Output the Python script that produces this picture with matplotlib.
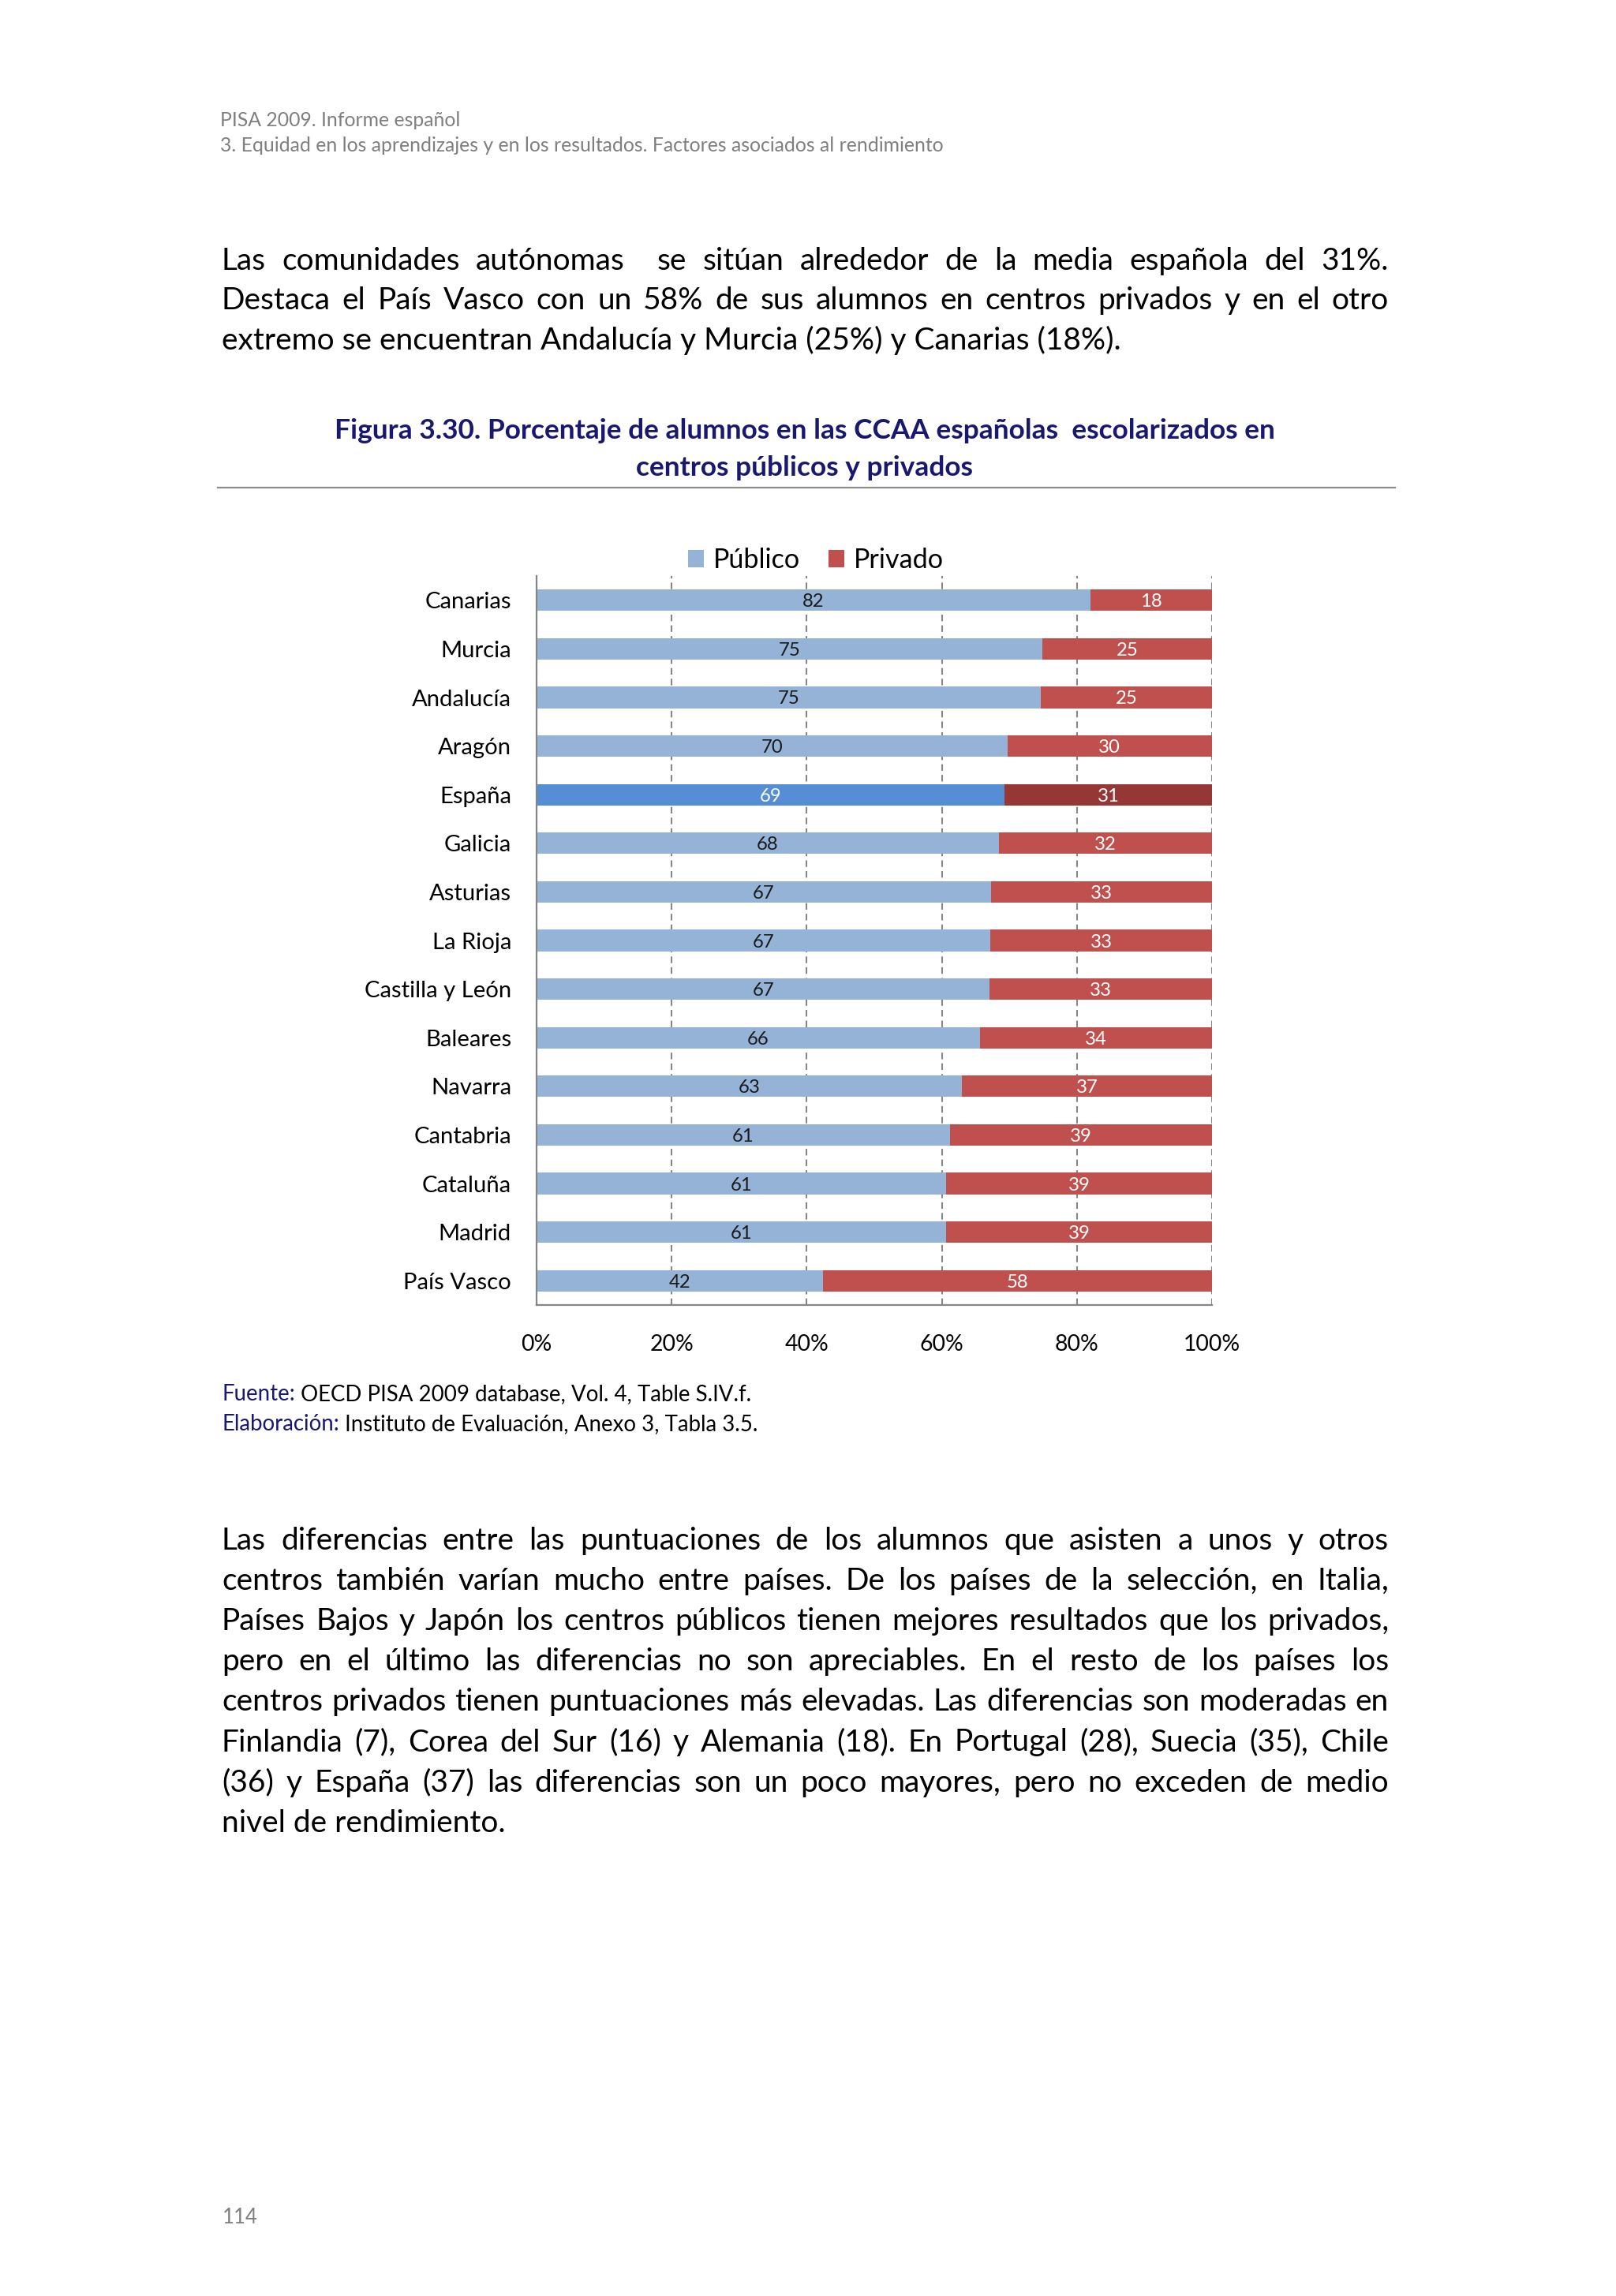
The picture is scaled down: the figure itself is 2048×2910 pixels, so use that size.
import numpy as np
import matplotlib
matplotlib.use("Agg")
from matplotlib import pyplot as plt

plt.rcParams['font.family'] = ['Lato', 'DejaVu Sans']

W, H = 2048, 2910

# datos de la figura 3.30
comunidades = ["Canarias", "Murcia", "Andalucía", "Aragón", "España", "Galicia",
               "Asturias", "La Rioja", "Castilla y León", "Baleares", "Navarra",
               "Cantabria", "Cataluña", "Madrid", "País Vasco"]
publico = [82.0, 74.9, 74.6, 69.7, 69.3, 68.4, 67.3, 67.2, 67.1, 65.6, 63.0, 61.2, 60.6, 60.6, 42.4]
privado = [18.0, 25.1, 25.4, 30.3, 30.7, 31.6, 32.7, 32.8, 32.9, 34.4, 37.0, 38.8, 39.4, 39.4, 57.6]
etiquetas_publico = [82, 75, 75, 70, 69, 68, 67, 67, 67, 66, 63, 61, 61, 61, 42]
etiquetas_privado = [18, 25, 25, 30, 31, 32, 33, 33, 33, 34, 37, 39, 39, 39, 58]
ticks = [0, 20, 40, 60, 80, 100]
tick_labels = ["0%", "20%", "40%", "60%", "80%", "100%"]

cabecera = ["PISA 2009. Informe español",
            "3. Equidad en los aprendizajes y en los resultados. Factores asociados al rendimiento"]
parrafo1 = ["Las comunidades autónomas  se sitúan alrededor de la media española del 31%.",
            "Destaca el País Vasco con un 58% de sus alumnos en centros privados y en el otro",
            "extremo se encuentran Andalucía y Murcia (25%) y Canarias (18%)."]
titulo = ["Figura 3.30. Porcentaje de alumnos en las CCAA españolas  escolarizados en",
          "centros públicos y privados"]
parrafo2 = ["Las diferencias entre las puntuaciones de los alumnos que asisten a unos y otros",
            "centros también varían mucho entre países. De los países de la selección, en Italia,",
            "Países Bajos y Japón los centros públicos tienen mejores resultados que los privados,",
            "pero en el último las diferencias no son apreciables. En el resto de los países los",
            "centros privados tienen puntuaciones más elevadas. Las diferencias son moderadas en",
            "Finlandia (7), Corea del Sur (16) y Alemania (18). En Portugal (28), Suecia (35), Chile",
            "(36) y España (37) las diferencias son un poco mayores, pero no exceden de medio",
            "nivel de rendimiento."]

BLUE, RED = '#95B3D7', '#C0504D'
BLUE_ES, RED_ES = '#558ED5', '#953735'
NAVY = '#18186E'
GRAY = '#7F7F7F'

fig = plt.figure(figsize=(W / 100, H / 100), dpi=100)
renderer = fig.canvas.get_renderer()


def fx(px):
    return px / W


def fy(py):
    return 1 - py / H


def text_width(s, size, **kw):
    if s == '':
        return 0
    t = fig.text(0, 0, s, fontsize=size, **kw)
    w = t.get_window_extent(renderer).width
    t.remove()
    return w


def fit_size(s, width, **kw):
    return 10 * width / text_width(s, 10, **kw)


LEFT, RIGHT = 281, 1760


def paragraph(lines, y0, step, size):
    for i, line in enumerate(lines):
        y = y0 + i * step
        if i == len(lines) - 1:
            fig.text(fx(LEFT), fy(y), line, fontsize=size, va='center', ha='left')
            continue
        words = line.split(' ')
        widths = [text_width(w, size) for w in words]
        gap = (RIGHT - LEFT - sum(widths)) / (len(words) - 1)
        x = LEFT
        for w, wd in zip(words, widths):
            if w:
                fig.text(fx(x), fy(y), w, fontsize=size, va='center', ha='left')
            x += wd + gap


# cabecera
size_head = fit_size(cabecera[1], 916)
fig.text(fx(279), fy(152), cabecera[0], fontsize=size_head, color=GRAY, va='center')
fig.text(fx(279), fy(184), cabecera[1], fontsize=size_head, color=GRAY, va='center')

# texto
size_body = fit_size(parrafo1[2], 1140)
paragraph(parrafo1, 331, 50, size_body)

# titulo
size_title = fit_size(titulo[1], 428, weight='bold')
fig.text(fx(1020), fy(546), titulo[0], fontsize=size_title, weight='bold', color=NAVY,
         ha='center', va='center')
fig.text(fx(1020), fy(593), titulo[1], fontsize=size_title, weight='bold', color=NAVY,
         ha='center', va='center')
fig.add_artist(plt.Line2D([fx(276), fx(1768)], [fy(618), fy(618)], color='#8C8C8C', lw=1.6))

# grafico
ax = fig.add_axes([fx(680), fy(1654), (1536 - 680) / W, (1654 - 730) / H])
y = np.arange(len(comunidades))
col_pub = [BLUE_ES if c == "España" else BLUE for c in comunidades]
col_pri = [RED_ES if c == "España" else RED for c in comunidades]
b1 = ax.barh(y, publico, height=0.44, color=col_pub, label="Público")
b2 = ax.barh(y, privado, left=publico, height=0.44, color=col_pri, label="Privado")

size_lab = fit_size("00", 25) * 1.1
t1 = ax.bar_label(b1, labels=[str(v) for v in etiquetas_publico], label_type='center',
                  fontsize=size_lab, color='#1A1A1A')
t2 = ax.bar_label(b2, labels=[str(v) for v in etiquetas_privado], label_type='center',
                  fontsize=size_lab, color='white')
t1[comunidades.index("España")].set_color('white')
for t in t1 + t2:
    t.set_va('center_baseline')

ax.set_xlim(0, 100)
ax.set_ylim(len(comunidades) - 0.5, -0.5)
ax.set_xticks(ticks)
size_tick = fit_size("100%", 72)
ax.set_xticklabels(tick_labels, fontsize=size_tick)
ax.set_yticks(y)
size_cat = fit_size("Canarias", 110)
ax.set_yticklabels(comunidades, fontsize=size_cat)
ax.tick_params(axis='x', length=0, pad=27)
ax.tick_params(axis='y', length=0, pad=23)
ax.xaxis.grid(True, color='#868686', lw=1.5, linestyle=(0, (4, 2.5)))
ax.set_axisbelow(True)
for s in ['top', 'right']:
    ax.spines[s].set_visible(False)
for s in ['left', 'bottom']:
    ax.spines[s].set_color('#868686')
    ax.spines[s].set_linewidth(1.6)

size_leg = fit_size("Público", 111)
ax.legend(ncol=2, loc='center', bbox_to_anchor=(fx(1034), fy(710)),
          bbox_transform=fig.transFigure, frameon=False, fontsize=size_leg,
          handlelength=14.4 / size_leg, handleheight=14.4 / size_leg,
          handletextpad=8.6 / size_leg, columnspacing=26 / size_leg, borderpad=0,
          borderaxespad=0)

# fuente
size_src = fit_size("Fuente: OECD PISA 2009 database, Vol. 4, Table S.IV.f.", 668)
for yy, a, b in [(1767, "Fuente:", " OECD PISA 2009 database, Vol. 4, Table S.IV.f."),
                 (1805, "Elaboración:", " Instituto de Evaluación, Anexo 3, Tabla 3.5.")]:
    fig.text(fx(281), fy(yy), a, fontsize=size_src, color=NAVY, va='center')
    fig.text(fx(281 + text_width(a + " ", size_src) - text_width(" ", size_src)), fy(yy), b,
             fontsize=size_src, va='center')

paragraph(parrafo2, 1953, 51.1, size_body)

fig.text(fx(282), fy(2810), "114", fontsize=fit_size("114", 45), color=GRAY, va='center')

fig.savefig("out.png", dpi=100)
